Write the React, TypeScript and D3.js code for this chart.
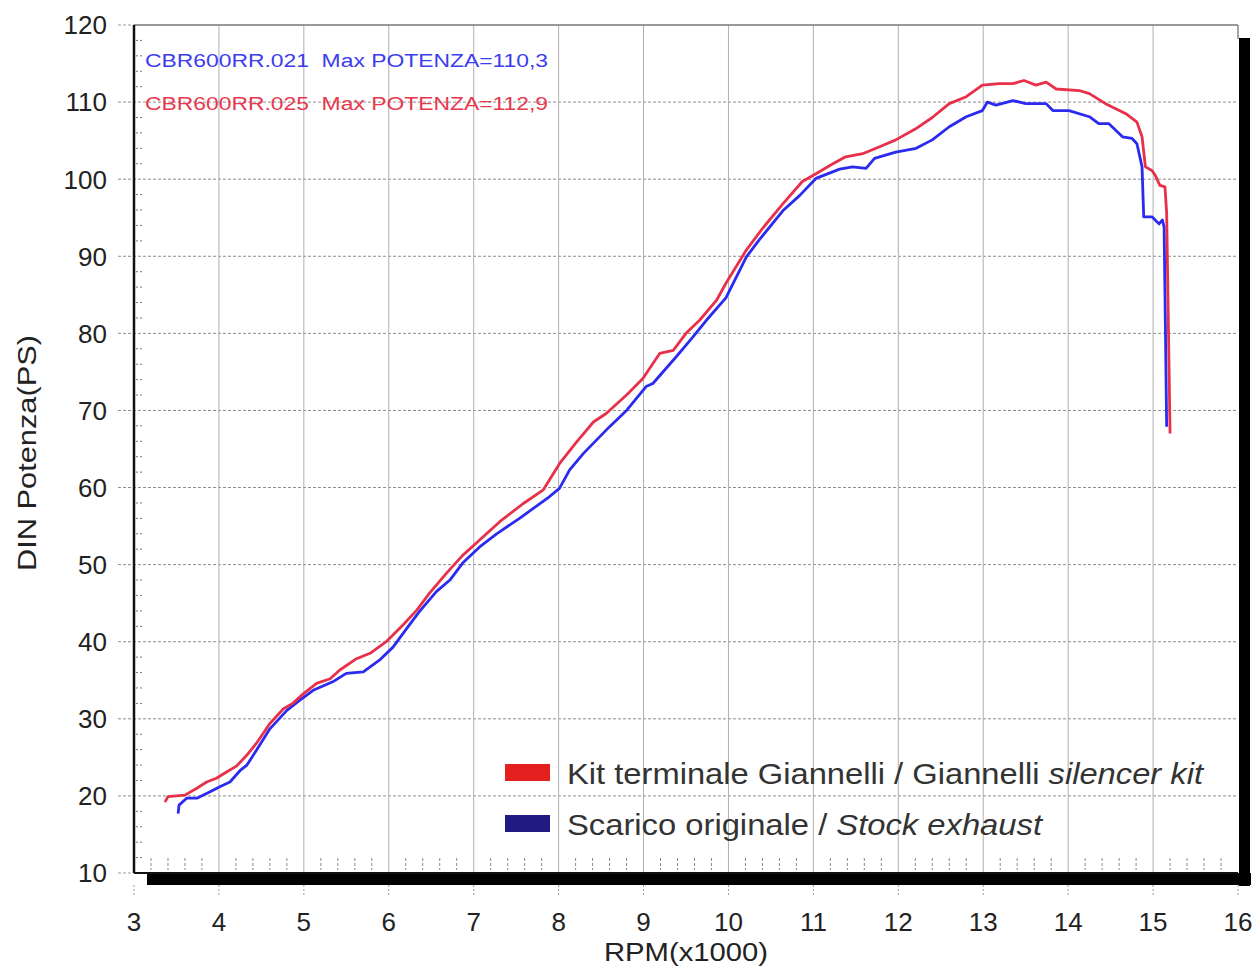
import { useEffect, useRef } from "react";
import * as d3 from "d3";

// Red curve: Giannelli silencer kit
const redRpm = [3.365, 3.4, 3.5, 3.6, 3.74, 3.855, 3.97, 4.09, 4.21, 4.33, 4.44, 4.6, 4.76, 4.87, 4.99, 5.15, 5.31, 5.42, 5.62, 5.78, 5.97, 6.17, 6.33, 6.48, 6.68, 6.87, 7.07, 7.31, 7.58, 7.82, 8.01, 8.21, 8.41, 8.56, 8.8, 8.99, 9.19, 9.35, 9.5, 9.66, 9.86, 9.97, 10.21, 10.4, 10.64, 10.87, 11.03, 11.23, 11.38, 11.58, 11.78, 11.97, 12.2, 12.4, 12.6, 12.8, 12.99, 13.19, 13.35, 13.48, 13.62, 13.74, 13.86, 14.13, 14.25, 14.44, 14.68, 14.81, 14.87, 14.91, 14.99, 15.03, 15.08, 15.14, 15.16, 15.2];
const redPs = [19.2, 19.9, 20.0, 20.1, 21.0, 21.8, 22.3, 23.1, 23.9, 25.3, 26.8, 29.4, 31.3, 32.0, 33.2, 34.6, 35.2, 36.3, 37.8, 38.5, 40.0, 42.2, 44.1, 46.3, 48.9, 51.2, 53.2, 55.6, 57.9, 59.7, 63.1, 65.9, 68.5, 69.6, 72.0, 74.1, 77.4, 77.8, 80.0, 81.7, 84.3, 86.5, 90.8, 93.6, 96.8, 99.7, 100.7, 102.0, 102.9, 103.3, 104.2, 105.1, 106.5, 108.0, 109.8, 110.7, 112.2, 112.4, 112.4, 112.8, 112.2, 112.6, 111.7, 111.5, 111.1, 109.8, 108.5, 107.4, 105.5, 101.6, 101.1, 100.4, 99.2, 99.0, 95.6, 67.0];

// Blue curve: stock exhaust
const blueRpm = [3.52, 3.53, 3.62, 3.74, 3.89, 4.01, 4.13, 4.25, 4.33, 4.44, 4.6, 4.8, 4.95, 5.11, 5.34, 5.5, 5.7, 5.89, 6.05, 6.21, 6.36, 6.56, 6.72, 6.87, 7.07, 7.27, 7.54, 7.89, 8.01, 8.13, 8.29, 8.6, 8.8, 9.03, 9.11, 9.38, 9.58, 9.74, 9.97, 10.21, 10.36, 10.64, 10.84, 11.03, 11.31, 11.46, 11.62, 11.72, 11.97, 12.21, 12.4, 12.6, 12.8, 12.99, 13.05, 13.15, 13.35, 13.5, 13.74, 13.82, 14.01, 14.25, 14.36, 14.48, 14.64, 14.75, 14.81, 14.87, 14.89, 14.99, 15.07, 15.11, 15.13, 15.16];
const bluePs = [17.7, 18.8, 19.7, 19.7, 20.5, 21.2, 21.8, 23.3, 24.0, 25.9, 28.7, 31.1, 32.4, 33.7, 34.8, 35.9, 36.1, 37.6, 39.3, 41.7, 43.9, 46.5, 48.0, 50.2, 52.3, 54.0, 56.0, 58.8, 59.9, 62.3, 64.4, 67.9, 70.0, 73.1, 73.5, 76.9, 79.5, 81.7, 84.6, 89.9, 92.1, 95.9, 97.9, 100.1, 101.3, 101.6, 101.4, 102.7, 103.5, 104.0, 105.1, 106.8, 108.1, 108.9, 110.0, 109.6, 110.2, 109.8, 109.8, 108.9, 108.9, 108.1, 107.2, 107.2, 105.5, 105.3, 104.6, 101.6, 95.1, 95.1, 94.2, 94.7, 93.8, 67.9];

const xTicks = [3, 4, 5, 6, 7, 8, 9, 10, 11, 12, 13, 14, 15, 16];
const yTicks = [10, 20, 30, 40, 50, 60, 70, 80, 90, 100, 110, 120];

const annotations = [
  { text: "CBR600RR.021  Max POTENZA=110,3", color: "#3c3cf0" },
  { text: "CBR600RR.025  Max POTENZA=112,9", color: "#e8384e" },
];

const legendItems = [
  { plain: "Kit terminale Giannelli / Giannelli ", italic: "silencer kit", color: "#e3201e", len: 636 },
  { plain: "Scarico originale / ", italic: "Stock exhaust", color: "#1f1b80", len: 475 },
];

const FONT = "'Liberation Sans', Arial, sans-serif";

export default function App() {
  const svgRef = useRef<SVGSVGElement>(null);

  useEffect(() => {
    const svg = d3.select(svgRef.current);
    svg.selectAll("*").remove();

    const left = 134, right = 1238, top = 25, bottom = 873;
    const x = d3.scaleLinear().domain([3, 16]).range([left, right]);
    const y = d3.scaleLinear().domain([10, 120]).range([bottom, top]);

    svg.append("rect").attr("width", 1258).attr("height", 966).attr("fill", "#fff");

    // shadow
    svg.append("rect").attr("x", right + 1).attr("y", top + 13).attr("width", 11).attr("height", bottom - top).attr("fill", "#000");
    svg.append("rect").attr("x", left + 13).attr("y", bottom).attr("width", right - left).attr("height", 12).attr("fill", "#000");

    // horizontal grid
    svg.append("g").selectAll("line").data(yTicks.slice(1, -1)).join("line")
      .attr("x1", left - 16).attr("x2", right)
      .attr("y1", d => y(d)).attr("y2", d => y(d))
      .attr("stroke", "#8c8c8c").attr("stroke-width", 1).attr("stroke-dasharray", "3,2");
    svg.append("line").attr("x1", left - 16).attr("x2", left).attr("y1", y(10)).attr("y2", y(10))
      .attr("stroke", "#9a9a9a").attr("stroke-dasharray", "3,2");
    svg.append("line").attr("x1", left - 16).attr("x2", left).attr("y1", y(120)).attr("y2", y(120))
      .attr("stroke", "#9a9a9a").attr("stroke-dasharray", "3,2");

    // vertical grid
    svg.append("g").selectAll("line").data(xTicks.slice(1, -1)).join("line")
      .attr("x1", d => x(d)).attr("x2", d => x(d))
      .attr("y1", top).attr("y2", bottom)
      .attr("stroke", "#b0b0b0").attr("stroke-width", 1);
    svg.append("g").selectAll("line").data(xTicks).join("line")
      .attr("x1", d => x(d)).attr("x2", d => x(d))
      .attr("y1", bottom + 12).attr("y2", bottom + 24)
      .attr("stroke", "#9a9a9a").attr("stroke-dasharray", "2,2");

    // minor ticks
    const xMinor = d3.range(3, 16.01, 0.2).filter(v => Math.abs(v - Math.round(v)) > 0.01);
    svg.append("g").selectAll("line").data(xMinor).join("line")
      .attr("x1", d => x(d)).attr("x2", d => x(d))
      .attr("y1", bottom - 15).attr("y2", bottom - 3)
      .attr("stroke", "#888").attr("stroke-width", 1).attr("stroke-dasharray", "3,2");
    const yMinor = d3.range(10, 120.01, 2).filter(v => v % 10 !== 0);
    svg.append("g").selectAll("line").data(yMinor).join("line")
      .attr("x1", left + 2).attr("x2", left + 9)
      .attr("y1", d => y(d)).attr("y2", d => y(d))
      .attr("stroke", "#777").attr("stroke-width", 1).attr("stroke-dasharray", "2,2");

    // frame
    svg.append("line").attr("x1", left).attr("x2", right).attr("y1", top).attr("y2", top).attr("stroke", "#777").attr("stroke-width", 1.5);
    svg.append("line").attr("x1", right).attr("x2", right).attr("y1", top).attr("y2", top + 14).attr("stroke", "#888").attr("stroke-width", 1.5);
    svg.append("line").attr("x1", left).attr("x2", left).attr("y1", top).attr("y2", bottom).attr("stroke", "#111").attr("stroke-width", 2.5);
    svg.append("line").attr("x1", left).attr("x2", right).attr("y1", bottom).attr("y2", bottom).attr("stroke", "#111").attr("stroke-width", 2);

    // tick labels
    svg.append("g").selectAll("text").data(yTicks).join("text")
      .attr("x", 107).attr("y", d => y(d)).attr("dy", "0.36em")
      .attr("text-anchor", "end").attr("font-family", FONT).attr("font-size", 26).attr("fill", "#222")
      .text(d => d);
    svg.append("g").selectAll("text").data(xTicks).join("text")
      .attr("x", d => x(d)).attr("y", 931)
      .attr("text-anchor", "middle").attr("font-family", FONT).attr("font-size", 26).attr("fill", "#222")
      .text(d => d);

    // axis titles
    svg.append("text").attr("transform", "translate(36,453) rotate(-90)")
      .attr("text-anchor", "middle").attr("font-family", FONT).attr("font-size", 26).attr("fill", "#222")
      .attr("textLength", 236).attr("lengthAdjust", "spacingAndGlyphs")
      .text("DIN Potenza(PS)");
    svg.append("text").attr("x", 686).attr("y", 961)
      .attr("text-anchor", "middle").attr("font-family", FONT).attr("font-size", 25).attr("fill", "#222")
      .attr("textLength", 164).attr("lengthAdjust", "spacingAndGlyphs")
      .text("RPM(x1000)");

    // curves
    const line = d3.line<[number, number]>().x(d => x(d[0])).y(d => y(d[1]));
    const redData = redRpm.map((r, i) => [r, redPs[i]] as [number, number]);
    const blueData = blueRpm.map((r, i) => [r, bluePs[i]] as [number, number]);
    svg.append("path").datum(blueData).attr("fill", "none").attr("stroke", "#2a2af0").attr("stroke-width", 2.8).attr("stroke-linejoin", "round").attr("d", line);
    svg.append("path").datum(redData).attr("fill", "none").attr("stroke", "#e8304a").attr("stroke-width", 2.8).attr("stroke-linejoin", "round").attr("d", line);

    // annotations
    svg.append("g").selectAll("text").data(annotations).join("text")
      .attr("x", 145).attr("y", (_, i) => 67 + i * 43)
      .attr("font-family", FONT).attr("font-size", 18).attr("fill", d => d.color)
      .attr("textLength", 403).attr("lengthAdjust", "spacingAndGlyphs")
      .attr("xml:space", "preserve")
      .text(d => d.text);

    // legend
    const lg = svg.append("g").selectAll("g").data(legendItems).join("g")
      .attr("transform", (_, i) => `translate(505,${764 + i * 51})`);
    lg.append("rect").attr("width", 45).attr("height", 17).attr("fill", d => d.color);
    const t = lg.append("text").attr("x", 62).attr("y", 20)
      .attr("font-family", FONT).attr("font-size", 30).attr("fill", "#333")
      .attr("textLength", d => d.len).attr("lengthAdjust", "spacingAndGlyphs")
      .attr("xml:space", "preserve");
    t.append("tspan").text(d => d.plain);
    t.append("tspan").attr("font-style", "italic").text(d => d.italic);
  }, []);

  return (
    <div style={{ position: "absolute", left: 0, top: 0 }}>
      <svg ref={svgRef} width={1258} height={966} style={{ display: "block" }} />
    </div>
  );
}
